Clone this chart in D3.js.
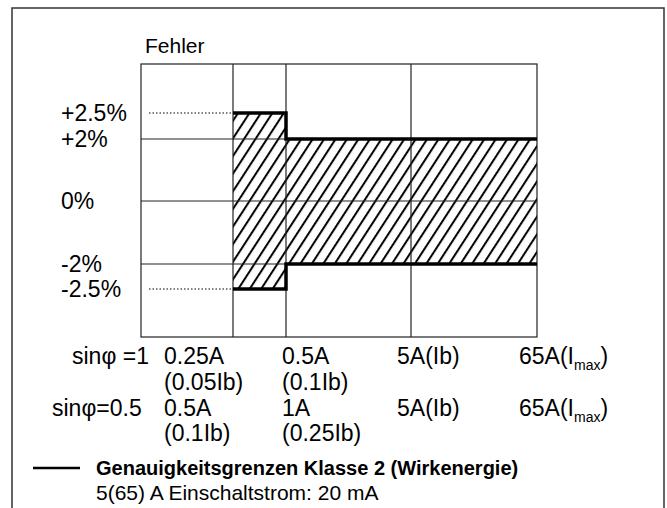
<!DOCTYPE html>
<html>
<head>
<meta charset="utf-8">
<script src="https://cdn.jsdelivr.net/npm/d3@7"></script>
<style>
  body { margin: 0; background: #fff; }
  text { font-family: "Liberation Sans", Arial, sans-serif; fill: #000; }
</style>
</head>
<body>
<svg id="chart" width="667" height="508"></svg>
<script>
// x positions of the current steps (grid lines), in order
const currents = ['start', '0.25A', '0.5A', '5A', '65A'];
// error limits per segment between consecutive currents (from 0.25A on)
const upperLimit = [2.5, 2, 2];
const lowerLimit = [-2.5, -2, -2];
// y tick values and labels
const yTickValues = [2.5, 2, 0, -2, -2.5];
const yTickLabels = ['+2.5%', '+2%', '0%', '-2%', '-2.5%'];
// current labels for both power factors
const rowLabels = ['sin\u03c6 =1', 'sin\u03c6=0.5'];
const row1 = [['0.25A', '(0.05Ib)'], ['0.5A', '(0.1Ib)'], ['5A(Ib)', ''], ['65A(I|max|)', '']];
const row2 = [['0.5A', '(0.1Ib)'], ['1A', '(0.25Ib)'], ['5A(Ib)', ''], ['65A(I|max|)', '']];
const legendTitle = 'Genauigkeitsgrenzen Klasse 2 (Wirkenergie)';
const legendNote = '5(65) A Einschaltstrom: 20 mA';

const svg = d3.select('#chart');

// outer frame (open at the bottom)
svg.append('path')
    .attr('d', 'M12,508V8H664V508')
    .attr('fill', 'none')
    .attr('stroke', '#333')
    .attr('stroke-width', 1.5);

// schematic scales (not to scale in the original either)
const x = d3.scaleLinear()
    .domain(d3.range(currents.length))
    .range([141, 233, 286, 411, 537]);
const y = d3.scaleLinear()
    .domain([-2.5, -2, 0, 2, 2.5])
    .range([289, 264, 201, 139, 113]);
const boxTop = 64, boxBottom = 337;

// hatch pattern
const defs = svg.append('defs');
defs.append('pattern')
    .attr('id', 'hatch')
    .attr('patternUnits', 'userSpaceOnUse')
    .attr('width', 9.6)
    .attr('height', 10)
    .attr('patternTransform', 'rotate(33)')
    .append('line')
    .attr('x1', 2).attr('y1', -1)
    .attr('x2', 2).attr('y2', 11)
    .attr('stroke', '#000')
    .attr('stroke-width', 2);

// hatched tolerance band
const segs = upperLimit.map((u, i) => ({x0: i + 1, x1: i + 2, hi: u, lo: lowerLimit[i]}));
const area = d3.area()
    .curve(d3.curveStepAfter)
    .x(d => x(d.i))
    .y0(d => y(d.lo))
    .y1(d => y(d.hi));
const areaPts = segs.map(s => ({i: s.x0, hi: s.hi, lo: s.lo}));
areaPts.push({i: segs[segs.length - 1].x1, hi: segs[segs.length - 1].hi, lo: segs[segs.length - 1].lo});
svg.append('path')
    .datum(areaPts)
    .attr('d', area)
    .attr('fill', 'url(#hatch)');

// grid box
const g = svg.append('g').attr('stroke', '#222').attr('stroke-width', 1.2).attr('fill', 'none');
g.append('rect')
    .attr('x', x(0)).attr('y', boxTop)
    .attr('width', x(currents.length - 1) - x(0))
    .attr('height', boxBottom - boxTop);
g.selectAll('line.v')
    .data(d3.range(1, currents.length - 1))
    .join('line')
    .attr('x1', d => x(d)).attr('x2', d => x(d))
    .attr('y1', boxTop).attr('y2', boxBottom);
g.selectAll('line.h')
    .data([2, 0, -2])
    .join('line')
    .attr('x1', x(0)).attr('x2', x(currents.length - 1))
    .attr('y1', d => y(d)).attr('y2', d => y(d));

// dotted leaders for +-2.5%
svg.selectAll('line.dot')
    .data([2.5, -2.5])
    .join('line')
    .attr('x1', 149).attr('x2', x(1))
    .attr('y1', d => y(d)).attr('y2', d => y(d))
    .attr('stroke', '#000')
    .attr('stroke-width', 1)
    .attr('stroke-dasharray', '1.5,2');

// thick limit lines
const line = d3.line().curve(d3.curveStepAfter).x(d => x(d.i)).y(d => y(d.v));
['hi', 'lo'].forEach(k => {
    svg.append('path')
        .datum(areaPts.map(p => ({i: p.i, v: p[k]})))
        .attr('d', line)
        .attr('fill', 'none')
        .attr('stroke', '#000')
        .attr('stroke-width', 3.5);
});

// y labels
svg.selectAll('text.ytick')
    .data(yTickValues)
    .join('text')
    .attr('x', 61)
    .attr('y', d => y(d) + 8)
    .attr('font-size', 23)
    .text((d, i) => yTickLabels[i]);

svg.append('text')
    .attr('x', 145).attr('y', 53)
    .attr('font-size', 21)
    .text('Fehler');

// current labels
const colX = [164, 282, 397, 519];
function addLabel(str, xp, yp) {
    const t = svg.append('text').attr('x', xp).attr('y', yp).attr('font-size', 23);
    str.split('|').forEach((part, j) => {
        const ts = t.append('tspan').text(part);
        if (j === 1) ts.attr('font-size', 14).attr('dy', 6);
        if (j === 2) ts.attr('dy', -6);
    });
}
const rowY = [[364, 390], [416, 441]];
[row1, row2].forEach((row, r) => {
    svg.append('text')
        .attr('x', r === 0 ? 72 : 52)
        .attr('y', rowY[r][0])
        .attr('font-size', 23)
        .text(rowLabels[r]);
    row.forEach((lab, c) => {
        addLabel(lab[0], colX[c], rowY[r][0]);
        if (lab[1]) addLabel(lab[1], colX[c], rowY[r][1]);
    });
});

// legend
svg.append('line')
    .attr('x1', 33).attr('x2', 80)
    .attr('y1', 468).attr('y2', 468)
    .attr('stroke', '#000').attr('stroke-width', 2.5);
svg.append('text')
    .attr('x', 96).attr('y', 475)
    .attr('font-size', 20)
    .attr('font-weight', 'bold')
    .text(legendTitle);
svg.append('text')
    .attr('x', 96).attr('y', 500)
    .attr('font-size', 21)
    .text(legendNote);
</script>
</body>
</html>
